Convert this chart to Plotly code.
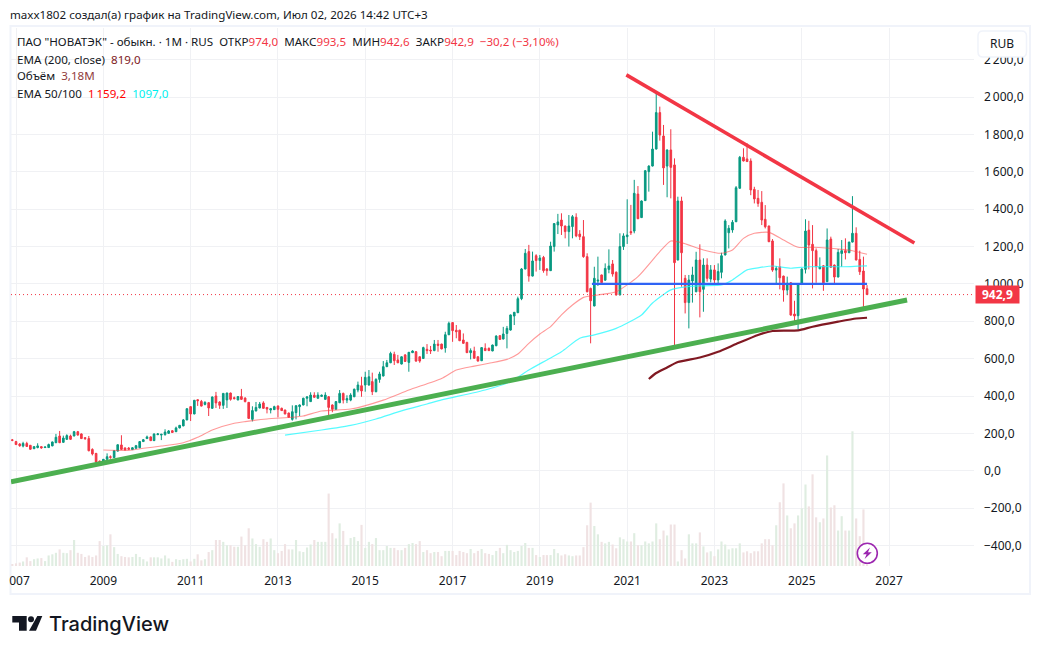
import pandas as pd
import plotly.graph_objects as go

# Monthly OHLC, December 2006 to July 2026 (RUB)
opens = [
    165,156,143,132,146,136,118,124,129,124, 124,133,150,186,152,168,186,186,209,197,
    177,172,114,93,52,40,61,75,70,105, 138,122,121,113,120,123,156,172,181,161,
    193,191,193,200,214,209,229,240,272,343, 304,380,371,355,364,334,400,368,350,379,
    416,391,379,397,389,366,275,320,336,363, 339,325,327,346,334,325,309,275,311,343,
    352,388,370,404,388,398,382,396,352,329, 364,414,378,378,396,432,455,459,459,477,
    423,489,507,557,578,623,593,571,620,580, 632,637,610,601,650,646,643,678,678,657,
    728,793,752,752,700,687,632,641,610,589, 655,655,641,669,723,705,735,753,828,846,
    921,1080,1173,1042,1151,1125,1142,1080,1071,1200, 1316,1342,1310,1280,1307,1357,1267,1253,1146,976,
    882,1015,1048,1020,1078,1107,1063,941,1200,1253, 1280,1283,1481,1355,1446,1601,1631,1722,1917,1792,
    1631,1717,1637,1128,1444,1030,900,1016,958,1128, 971,1101,1026,1075,1021,1062,1155,1274,1289,1333,
    1512,1678,1669,1658,1506,1458,1437,1346,1310,1230, 1074,1092,1042,967,1006,839,830,999,1078,1288,
    1212,1178,1081,1097,1012,1240,1101,1037,1163,1178, 1167,1224,1271,1131,1069,974,
]
highs = [
    170,160,148,155,155,138,131,147,131,129, 145,156,197,213,188,195,193,213,213,200,
    180,186,120,95,54,63,93,82,109,141, 190,125,127,127,138,158,170,188,184,199,
    202,197,222,218,218,236,245,277,334,345, 379,382,379,372,368,397,422,372,414,418,
    418,397,400,438,393,368,345,368,368,372, 341,336,348,350,338,327,311,350,350,355,
    391,400,420,420,420,408,420,400,355,373, 432,418,404,415,440,477,503,530,539,525,
    495,530,587,593,637,637,620,612,624,635, 645,641,612,664,678,668,700,700,680,744,
    798,795,780,755,735,690,655,664,612,662, 682,660,675,725,725,770,775,836,850,932,
    1085,1187,1209,1173,1159,1155,1150,1085,1226,1325, 1375,1378,1312,1369,1369,1378,1288,1342,1164,980,
    1092,1146,1050,1110,1185,1128,1066,1271,1271,1453, 1423,1557,1524,1447,1610,1635,1815,2021,1949,1851,
    1720,1828,1672,1467,1467,1048,1048,1092,1172,1212, 1137,1137,1101,1101,1110,1167,1346,1315,1342,1524,
    1685,1726,1753,1672,1520,1503,1497,1422,1312,1240, 1096,1137,1044,1039,1010,910,1001,1083,1346,1338,
    1315,1190,1142,1101,1297,1253,1104,1187,1235,1244, 1226,1470,1303,1178,1146,993.5,
]
lows = [
    158,138,128,125,127,112,116,120,118,122, 122,131,148,148,150,165,165,184,188,170,
    165,104,82,44,38,38,58,64,68,103, 112,109,113,111,117,121,154,170,159,159,
    191,164,188,198,202,207,227,238,270,266, 302,347,344,350,293,332,336,331,331,336,
    375,382,377,379,366,277,264,318,334,332, 307,307,325,286,320,302,284,268,275,293,
    350,345,368,391,386,396,380,298,313,327, 362,360,362,372,394,420,396,423,455,405,
    420,471,505,555,576,566,576,569,583,530, 630,583,578,598,625,625,640,637,650,632,
    726,690,709,694,680,630,596,600,585,587, 641,641,640,667,701,703,655,750,780,844,
    913,1078,1012,1040,1066,1075,1060,1044,1069,1173, 1267,1262,1244,1200,1244,1250,1235,1140,955,682,
    880,989,1005,1018,1057,1039,938,939,1182,1214, 1262,1271,1347,1353,1444,1494,1629,1720,1767,1530,
    1464,1458,655,1126,985,842,762,900,956,821, 851,1012,1008,1003,1003,1030,1153,1190,1274,1331,
    1510,1656,1653,1475,1431,1413,1315,1297,1224,1065, 999,971,905,940,830,780,758,997,1056,1078,
    976,1006,1079,963,1010,1087,1001,1035,1092,1131, 1165,1222,1126,1048,875,942.6,
]
closes = [
    163,140,134,146,130,115,129,133,122,127, 140,154,179,150,175,188,168,209,191,172,
    172,107,90,47,41,61,75,72,107,139, 114,111,115,123,134,156,166,181,161,197,
    197,195,207,213,205,229,243,272,332,304, 377,375,346,366,336,395,363,350,414,416,
    382,386,397,382,370,280,322,339,357,334, 330,332,343,329,322,304,286,316,348,352,
    388,395,405,393,405,404,405,339,329,370, 414,378,386,405,436,459,427,500,503,423,
    489,518,557,578,628,589,578,610,585,634, 641,587,587,659,643,642,678,671,652,728,
    789,750,744,696,682,632,643,602,587,659, 643,643,673,721,703,732,762,834,848,921,
    1080,1164,1042,1123,1125,1139,1071,1071,1203,1323, 1332,1310,1280,1310,1360,1257,1253,1146,958,910,
    1030,1020,1007,1083,1096,1053,941,1200,1257,1262, 1274,1485,1349,1444,1606,1631,1722,1917,1797,1621,
    1717,1624,1114,1444,1167,900,1021,1048,1128,958, 1101,1030,1075,1021,1066,1151,1337,1298,1330,1515,
    1678,1658,1655,1503,1455,1431,1342,1306,1226,1074, 1083,1033,967,1003,833,828,999,1080,1283,1208,
    1178,1092,1092,1006,1235,1089,1037,1169,1178,1167, 1224,1271,1128,1065,973,942.9,
]
# Monthly traded volume, millions of shares
volumes = [
    0.4,0.7,0.9,1.2,2.3,1.3,1.8,2.0,2.1,1.3, 2.8,3.1,3.5,4.4,3.5,3.4,4.2,6.9,3.5,3.2,
    2.4,2.8,2.4,2.8,6.6,5.3,5.5,8.4,5.0,3.2, 2.6,2.4,2.3,2.4,3.2,2.4,1.8,1.2,2.3,2.3,
    2.3,2.0,2.8,2.0,1.1,1.8,1.6,1.8,1.9,1.2, 1.9,3.1,1.5,1.8,3.7,4.2,6.9,6.9,6.4,5.5,
    5.5,5.1,5.1,7.8,5.5,10.0,7.3,5.8,5.1,7.1, 6.4,7.3,4.2,3.4,4.0,5.8,4.4,4.4,6.9,3.9,
    3.7,4.9,5.7,6.9,6.4,6.4,6.4,19.2,8.7,7.3, 11.3,9.3,5.6,7.4,7.7,6.6,10.9,4.8,6.4,5.8,
    7.4,4.2,4.2,5.3,4.8,4.8,4.2,4.2,4.8,5.8, 6.1,5.8,6.6,3.7,4.2,3.4,3.7,3.7,2.6,4.0,
    4.0,4.0,2.9,4.0,3.7,3.4,4.5,3.4,4.0,4.5, 3.4,3.2,2.9,4.0,4.8,3.4,5.6,4.2,3.7,4.0,
    5.3,6.1,4.8,4.8,2.9,2.4,2.9,2.9,2.9,4.5, 3.4,2.8,3.1,2.8,2.6,2.8,2.8,5.0,10.8,16.8,
    10.6,8.4,6.4,6.0,6.4,5.7,4.7,7.6,7.1,6.5, 6.5,8.7,5.5,5.5,6.5,6.0,6.5,11.3,7.1,9.4,
    8.1,11.0,11.0,1.2,4.2,2.0,8.4,6.0,6.0,8.9, 5.2,3.6,3.9,2.6,4.4,6.5,5.7,4.4,4.7,4.7,
    6.0,3.6,3.9,3.4,3.9,3.9,6.0,7.1,7.1,5.5, 10.8,16.9,21.9,13.4,10.0,11.3,13.4,15.3,21.6,15.8,
    24.3,12.9,11.6,12.6,29.3,15.5,16.1,9.4,13.2,9.4, 9.4,35.7,12.6,7.9,15.0,3.18,
]
months = pd.date_range("2006-12-01", periods=len(opens), freq="MS")

# Moving averages read at selected months
ema50_dates = ["2009-01","2009-08","2009-12","2010-05","2010-11","2011-03","2011-07","2012-01","2012-04","2012-10",
               "2013-05","2013-08","2014-01","2014-09","2015-06","2016-01","2016-10","2017-02","2017-07","2017-11",
               "2018-04","2018-07","2018-10","2019-01","2019-04","2019-07","2019-10","2020-01","2020-05","2020-10",
               "2021-04","2021-10","2022-01","2022-04","2022-10","2023-03","2023-06","2023-09","2023-12","2024-04",
               "2024-08","2024-12","2025-04","2025-12","2026-03","2026-07"]
ema50_values = [111,109,120,132,150,179,218,254,263,277,
                286,293,320,330,378,432,494,539,560,575,
                596,625,682,732,771,834,887,928,941,958,
                1039,1173,1230,1221,1182,1164,1182,1244,1271,1276,
                1235,1196,1196,1185,1178,1159.2]
ema100_dates = ["2013-03","2014-01","2014-09","2015-04","2015-11","2016-06","2016-10","2017-10","2018-05","2018-10",
                "2019-03","2019-07","2019-12","2020-04","2020-10","2021-05","2021-08","2022-01","2022-05","2022-10",
                "2023-03","2023-06","2023-10","2024-01","2024-05","2024-10","2025-03","2025-12","2026-07"]
ema100_values = [191,218,243,277,320,357,379,432,477,539,
                 593,637,709,727,762,834,898,968,984,990,
                 994,1021,1075,1086,1096,1084,1092,1092,1097]
ema200_dates = ["2021-07","2021-09","2021-12","2022-03","2022-09","2023-02","2023-07","2024-01","2024-05","2024-12",
                "2025-04","2025-11","2026-04","2026-07"]
ema200_values = [491,523,553,582,606,637,678,727,748,751,771,798,815,819]

# Hand-drawn lines on the chart
support_dates = ["2006-11-20", "2027-06-01"]
support_values = [-59, 914]
resistance_dates = ["2020-12-25", "2027-08-01"]
resistance_values = [2119, 1219]
level_dates = ["2020-03-12", "2026-07-01"]
level_values = [1000, 1000]

last_close = closes[-1]
price_ticks = [-400, -200, 0, 200, 400, 600, 800, 1000, 1200, 1400, 1600, 1800, 2000, 2200]
price_labels = ["−400,0", "−200,0", "0,0", "200,0", "400,0", "600,0", "800,0", "1\u2009000,0",
                "1\u2009200,0", "1\u2009400,0", "1\u2009600,0", "1\u2009800,0", "2\u2009000,0", "2\u2009200,0"]
year_ticks = ["%d-01-01" % y for y in range(2007, 2029, 2)]
year_labels = [str(y) for y in range(2007, 2029, 2)]

FONT = "Noto Sans"
INK = "#131722"
UP = "#089981"
DOWN = "#F23645"
GRID = "#F0F1F4"
BORDER = "#F0F3FA"
W, H = 1040, 654
L, R, T, B = 11, 974, 28, 566


def px(x):
    return (x - L) / (R - L)


def py(y):
    return (B - y) / (B - T)


def poly(points):
    return "M " + " L ".join(f"{px(a):.5f},{py(b):.5f}" for a, b in points) + " Z"


def round_rect(x0, y0, x1, y1, r):
    return (f"M {px(x0+r):.5f},{py(y0):.5f} L {px(x1-r):.5f},{py(y0):.5f} "
            f"Q {px(x1):.5f},{py(y0):.5f} {px(x1):.5f},{py(y0+r):.5f} "
            f"L {px(x1):.5f},{py(y1-r):.5f} Q {px(x1):.5f},{py(y1):.5f} {px(x1-r):.5f},{py(y1):.5f} "
            f"L {px(x0+r):.5f},{py(y1):.5f} Q {px(x0):.5f},{py(y1):.5f} {px(x0):.5f},{py(y1-r):.5f} "
            f"L {px(x0):.5f},{py(y0+r):.5f} Q {px(x0):.5f},{py(y0):.5f} {px(x0+r):.5f},{py(y0):.5f} Z")


fig = go.Figure()

vol_colors = ["#DFEDE1" if c >= o else "#F0E2E3" for o, c in zip(opens, closes)]
fig.add_trace(go.Bar(x=months, y=volumes, yaxis="y2", marker=dict(color=vol_colors, line=dict(width=0)),
                     width=18 * 86400000))

fig.add_trace(go.Candlestick(
    x=months, open=opens, high=highs, low=lows, close=closes,
    increasing=dict(line=dict(color=UP, width=1), fillcolor=UP),
    decreasing=dict(line=dict(color=DOWN, width=1), fillcolor=DOWN),
))

fig.add_trace(go.Scatter(x=ema50_dates, y=ema50_values, mode="lines",
                         line=dict(color="rgba(255,70,70,0.55)", width=1.1, shape="spline", smoothing=0.6)))
fig.add_trace(go.Scatter(x=ema100_dates, y=ema100_values, mode="lines",
                         line=dict(color="rgba(30,250,255,0.75)", width=1.2, shape="spline", smoothing=0.6)))
fig.add_trace(go.Scatter(x=ema200_dates, y=ema200_values, mode="lines",
                         line=dict(color="#801922", width=2.2, shape="spline", smoothing=0.6)))

fig.add_trace(go.Scatter(x=["2006-11-20", "2028-12-12"], y=[last_close, last_close], mode="lines",
                         line=dict(color=DOWN, width=1, dash="1px,3px")))

fig.add_trace(go.Scatter(x=level_dates, y=level_values, mode="lines", line=dict(color="#2F63F5", width=2.4)))
fig.add_trace(go.Scatter(x=support_dates, y=support_values, mode="lines", line=dict(color="#4CAF50", width=5)))
fig.add_trace(go.Scatter(x=resistance_dates, y=resistance_values, mode="lines", line=dict(color="#F23645", width=3.6)))

shapes = [
    # chart frame
    dict(type="rect", xref="paper", yref="paper", x0=px(10.5), x1=px(1030), y0=py(594), y1=py(26),
         line=dict(color=BORDER, width=2), layer="below"),
    # the pane's left edge cuts off the first year label
    dict(type="rect", xref="paper", yref="paper", x0=px(0), x1=px(9), y0=py(570), y1=py(590),
         fillcolor="white", line=dict(width=0), layer="above"),
    # currency button
    dict(type="path", xref="paper", yref="paper", path=round_rect(978, 31, 1026.5, 57, 5),
         fillcolor="white", line=dict(color=BORDER, width=1.5), layer="above"),
    # news badge
    dict(type="circle", xref="paper", yref="paper", x0=px(857.3), x1=px(877.3), y0=py(563.3), y1=py(543.3),
         fillcolor="white", line=dict(color="#9C27B0", width=1.6), layer="above"),
    dict(type="path", xref="paper", yref="paper",
         path=poly([(870, 547.5), (862.8, 554.3), (866.6, 554.3), (864.6, 559), (871.8, 552.3), (868, 552.3)]),
         fillcolor="#9C27B0", line=dict(width=0), layer="above"),
    # brand mark
    dict(type="path", xref="paper", yref="paper",
         path=poly([(12.3, 616), (26.7, 616), (26.7, 630.7), (19, 630.7), (19, 622.4), (12.3, 622.4)]),
         fillcolor="#131722", line=dict(width=0), layer="above"),
    dict(type="circle", xref="paper", yref="paper", x0=px(28), x1=px(34), y0=py(622.3), y1=py(616.3),
         fillcolor="#131722", line=dict(width=0), layer="above"),
    dict(type="path", xref="paper", yref="paper",
         path=poly([(37.3, 616), (42.3, 616), (36, 630.7), (29, 630.7)]),
         fillcolor="#131722", line=dict(width=0), layer="above"),
]


def red(t):
    return f'<span style="color:{DOWN}">{t}</span>'


def note(x, y, text, size=11.6, color=INK, xanchor="left", weight=None, family=FONT):
    # text boxes are placed from the pane's left edge with a pixel shift
    return dict(xref="paper", yref="paper", x=max(px(x), 0), xshift=min(x - L, 0), y=py(y), text=text,
                showarrow=False, xanchor=xanchor, yanchor="middle", align="left",
                font=dict(family=family, size=size, color=color, weight=weight))


annotations = [
    note(8, 14.5, "maxx1802 создал(а) график на TradingView.com, Июл 02, 2026 14:42 UTC+3"),
    note(15, 42, 'ПАО "НОВАТЭК" - обыкн. · 1М · RUS  ОТКР' + red("974,0") + "  МАКС" + red("993,5")
         + "  МИН" + red("942,6") + "  ЗАКР" + red("942,9") + "  " + red("−30,2 (−3,10%)")),
    note(15, 59.5, 'EMA (200, close)  <span style="color:#801922">819,0</span>'),
    note(15, 76, 'Объём  <span style="color:#913B3B">3,18M</span>'),
    note(15, 93, 'EMA 50/100  <span style="color:#FF0000">1\u2009159,2</span>  <span style="color:#00F0F0">1097,0</span>'),
    note(1002.3, 44, "RUB", size=12, xanchor="center"),
    note(46.5, 624, "TradingView", size=20, color="#131722", weight=500, family="Inter"),
    dict(xref="paper", yref="y", x=px(975), y=last_close, text="<b>942,9</b>", showarrow=False,
         xanchor="left", yanchor="middle", width=43, height=17, bgcolor=DOWN, borderpad=0,
         font=dict(family=FONT, size=12, color="white")),
]

fig.update_layout(
    width=W, height=H, margin=dict(l=L, r=W - R, t=T, b=H - B, pad=0), autosize=False,
    paper_bgcolor="white", plot_bgcolor="white", showlegend=False, hovermode=False,
    font=dict(family=FONT, size=12, color=INK),
    xaxis=dict(type="date", range=["2006-11-20", "2028-12-12"], tickmode="array", tickvals=year_ticks,
               ticktext=year_labels, showgrid=True, gridcolor=GRID, gridwidth=1, zeroline=False, showline=False,
               ticks="", ticklabelstandoff=6, tickangle=0, rangeslider=dict(visible=False), automargin=False,
               tickfont=dict(family=FONT, size=12, color=INK)),
    yaxis=dict(side="right", range=[-510, 2370], tickmode="array", tickvals=price_ticks, ticktext=price_labels,
               showgrid=True, gridcolor=GRID, gridwidth=1, zeroline=False, showline=False, ticks="", automargin=False,
               ticklabelstandoff=9, tickfont=dict(family=FONT, size=12, color=INK)),
    yaxis2=dict(overlaying="y", side="right", range=[0, 142.6], visible=False, fixedrange=True, automargin=False),
    shapes=shapes, annotations=annotations, boxgap=0.3,
)

fig.write_html("out.html", config=dict(displayModeBar=False))
